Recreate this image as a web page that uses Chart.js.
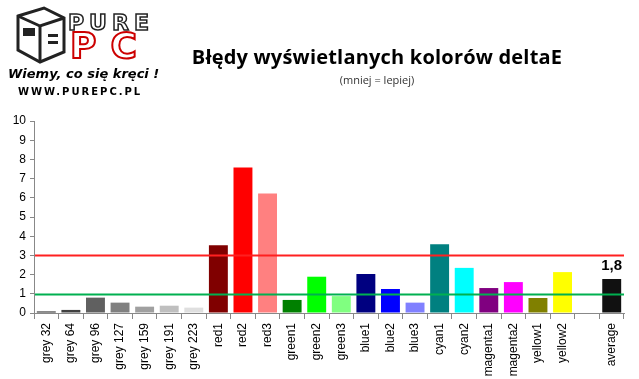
<!DOCTYPE html>
<html>
<head>
<meta charset="utf-8">
<script src="https://cdn.jsdelivr.net/npm/chart.js@4/dist/chart.umd.min.js"></script>
<style>
  html, body { margin: 0; padding: 0; background: #fff; }
  #wrap { position: relative; width: 639px; height: 379px; overflow: hidden; }
  #chart { position: absolute; left: 0; top: 0; }
  .title { position: absolute; left: 377px; transform: translateX(-50%); white-space: nowrap; color: #000; }
  #t1 { top: 43px; font: bold 20px "Open Sans", sans-serif; letter-spacing: 0.2px; }
  #t2 { top: 72px; font: 11px "Open Sans", sans-serif; color: #333; }
  .logo { position: absolute; white-space: nowrap; }
  #lpure { left: 68px; top: 10px; font: bold 22px "DejaVu Sans", sans-serif; letter-spacing: 5px; color: #fff; -webkit-text-stroke: 1.5px #222; }
  #lpc { left: 70px; top: 29px; font: bold 36px "DejaVu Sans", sans-serif; letter-spacing: 14px; color: #fff; -webkit-text-stroke: 2px #c00; line-height: 34px; }
  #lmotto { left: 8px; top: 66px; font: italic bold 13px "DejaVu Sans", sans-serif; color: #000; letter-spacing: 0px; }
  #lwww { left: 18px; top: 86px; font: bold 10px "DejaVu Sans", sans-serif; color: #000; letter-spacing: 2px; }
</style>
</head>
<body>
<div id="wrap">
  <canvas id="chart" width="639" height="379"></canvas>
  <svg class="logo" style="left:14px;top:4px" width="54" height="60" viewBox="0 0 54 60">
    <polygon points="4,12 30,4 50,14 50,48 26,58 4,46" fill="#fff" stroke="#222" stroke-width="3"/>
    <polyline points="4,12 26,22 50,14" fill="none" stroke="#222" stroke-width="3"/>
    <line x1="26" y1="22" x2="26" y2="58" stroke="#222" stroke-width="3"/>
    <rect x="9" y="24" width="12" height="8" fill="#222"/>
    <rect x="34" y="30" width="10" height="3" fill="#222"/>
    <rect x="34" y="37" width="10" height="3" fill="#222"/>
  </svg>
  <div class="logo" id="lpure">PURE</div>
  <div class="logo" id="lpc">PC</div>
  <div class="logo" id="lmotto">Wiemy, co się kręci !</div>
  <div class="logo" id="lwww">WWW.PUREPC.PL</div>
  <div class="title" id="t1">Błędy wyświetlanych kolorów deltaE</div>
  <div class="title" id="t2">(mniej = lepiej)</div>
</div>
<script>
const categories = ['grey 32', 'grey 64', 'grey 96', 'grey 127', 'grey 159', 'grey 191', 'grey 223',
  'red1', 'red2', 'red3', 'green1', 'green2', 'green3', 'blue1', 'blue2', 'blue3',
  'cyan1', 'cyan2', 'magenta1', 'magenta2', 'yellow1', 'yellow2', '', 'average'];
const deltaE = [0.08, 0.16, 0.8, 0.54, 0.33, 0.38, 0.28,
  3.53, 7.58, 6.23, 0.68, 1.89, 0.88, 2.03, 1.25, 0.54,
  3.58, 2.35, 1.3, 1.61, 0.78, 2.13, null, 1.77];
const barColors = ['#222222', '#404040', '#606060', '#808080', '#a0a0a0', '#bfbfbf', '#dfdfdf',
  '#800000', '#ff0000', '#ff8080', '#008000', '#00ff00', '#80ff80', '#000080', '#0000ff', '#8080ff',
  '#008080', '#00ffff', '#800080', '#ff00ff', '#808000', '#ffff00', '#ffffff', '#111111'];
const yTicks = [0, 1, 2, 3, 4, 5, 6, 7, 8, 9, 10];
const thresholds = [3, 1];
const thresholdColors = ['#ff2020', '#00b050'];

// poziome linie progowe (3 i 1)
const thresholdLines = {
  id: 'thresholdLines',
  afterDatasetsDraw(chart) {
    const { ctx, chartArea, scales } = chart;
    ctx.save();
    ctx.lineWidth = 2;
    thresholds.forEach((t, i) => {
      const y = Math.round(scales.y.getPixelForValue(t)) + 0.5;
      ctx.strokeStyle = thresholdColors[i];
      ctx.beginPath();
      ctx.moveTo(chartArea.left + 1, y);
      ctx.lineTo(chartArea.right, y);
      ctx.stroke();
    });
    ctx.restore();
  }
};

// etykieta nad slupkiem "average"
const averageLabel = {
  id: 'averageLabel',
  afterDraw(chart) {
    const { ctx } = chart;
    const idx = categories.indexOf('average');
    const bar = chart.getDatasetMeta(0).data[idx];
    ctx.save();
    ctx.font = 'bold 15px "Liberation Sans", Arial, sans-serif';
    ctx.fillStyle = '#000';
    ctx.textAlign = 'center';
    ctx.textBaseline = 'bottom';
    ctx.fillText(deltaE[idx].toFixed(1).replace('.', ','), bar.x, bar.y - 6);
    ctx.restore();
  }
};

new Chart(document.getElementById('chart'), {
  type: 'bar',
  data: {
    labels: categories,
    datasets: [{
      data: deltaE,
      backgroundColor: barColors,
      borderWidth: 0,
      categoryPercentage: 1,
      barPercentage: 0.77
    }]
  },
  options: {
    responsive: false,
    animation: false,
    layout: { padding: { left: 0, right: 15, top: 121, bottom: 0 } },
    plugins: {
      legend: { display: false },
      tooltip: { enabled: false }
    },
    scales: {
      x: {
        grid: { drawOnChartArea: false, color: '#888', tickLength: 6, offset: true },
        border: { color: '#888', width: 1 },
        ticks: {
          minRotation: 90, maxRotation: 90, autoSkip: false,
          color: '#000', padding: 4,
          font: { family: '"Liberation Sans", Arial, sans-serif', size: 12 }
        },
        afterFit(scale) { scale.height = 66; }
      },
      y: {
        min: 0, max: 10,
        afterBuildTicks(scale) { scale.ticks = yTicks.map(v => ({ value: v })); },
        grid: { drawOnChartArea: false, color: '#888', tickLength: 4 },
        border: { color: '#888', width: 1 },
        ticks: {
          color: '#000', padding: 4,
          font: { family: '"Liberation Sans", Arial, sans-serif', size: 12 }
        },
        afterFit(scale) { scale.width = 34; }
      }
    }
  },
  plugins: [thresholdLines, averageLabel]
});
</script>
</body>
</html>
